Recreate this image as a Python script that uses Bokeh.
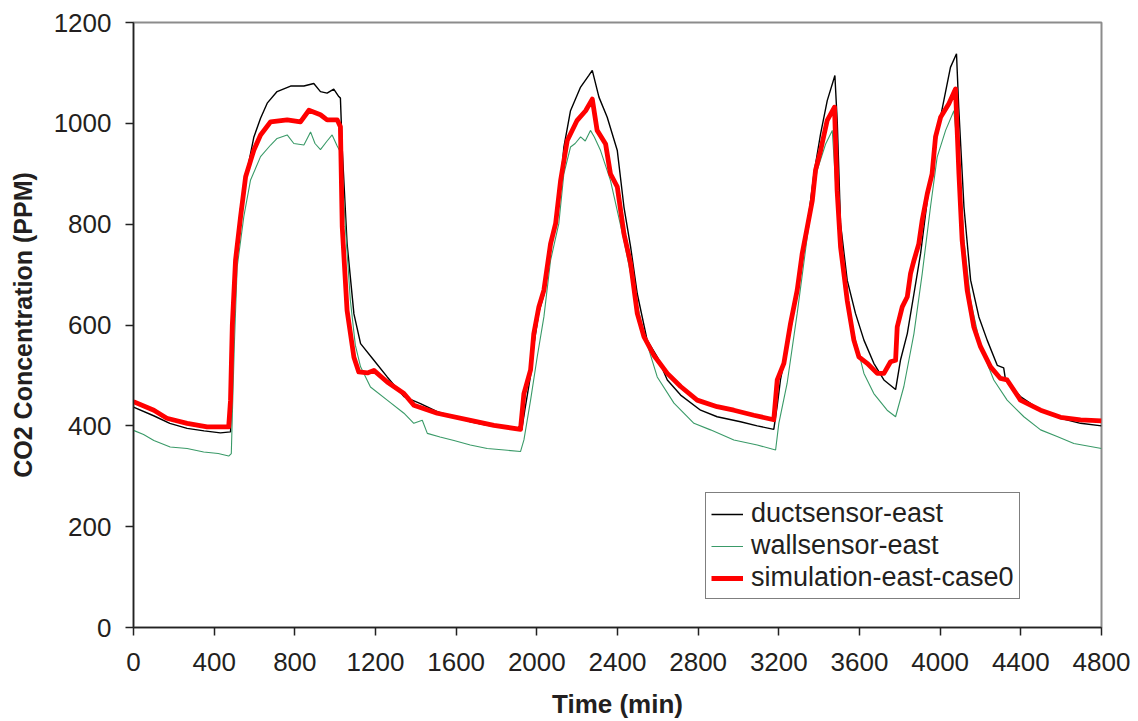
from bokeh.plotting import figure
from bokeh.models import Range1d, SingleIntervalTicker, Legend, LegendItem
from bokeh.embed import file_html
from bokeh.resources import INLINE

# ductsensor-east (black)
duct_t = [0, 100, 180, 266, 350, 431, 481, 490, 500, 512, 530, 564, 597, 630, 663, 712, 779, 845, 894, 927,
          960, 993, 1018, 1026, 1035, 1059, 1093, 1126, 1192, 1258, 1341, 1423, 1506, 1589, 1671, 1754, 1837, 1911,
          1925, 1940, 1969, 1985, 2010, 2035, 2068, 2093, 2118, 2134, 2167, 2217, 2258, 2275, 2308, 2349, 2399,
          2432, 2465, 2498, 2547, 2597, 2647, 2713, 2812, 2894, 3010, 3093, 3175, 3192, 3208, 3258, 3275, 3308,
          3341, 3374, 3407, 3440, 3478, 3490, 3506, 3539, 3580, 3622, 3671, 3721, 3779, 3803, 3837, 3870, 3903,
          3936, 3985, 4018, 4051, 4081, 4092, 4118, 4151, 4192, 4233, 4283, 4315, 4324, 4398, 4498, 4597, 4696, 4800]
duct_v = [437, 420, 405, 395, 390, 386, 388, 500, 650, 750, 830, 907, 973, 1010, 1040, 1063, 1074, 1074, 1079, 1063,
          1060, 1068, 1053, 1050, 950, 762, 622, 563, 530, 497, 458, 444, 428, 418, 408, 401, 398, 395,
          392, 430, 500, 560, 625, 660, 750, 800, 880, 953, 1025, 1072, 1095, 1105, 1052, 1012, 946,
          834, 755, 662, 570, 537, 491, 461, 431, 418, 408, 400, 393, 440, 491, 590, 629, 702,
          794, 900, 979, 1045, 1095, 1000, 801, 689, 623, 570, 524, 491, 472, 530, 583, 662, 742,
          847, 979, 1045, 1111, 1138, 1032, 834, 689, 616, 570, 520, 515, 491, 458, 431, 415, 405, 400]

# wallsensor-east (green)
wall_t = [0, 50, 101, 182, 266, 348, 420, 472, 485, 490, 500, 514, 547, 580, 630, 680, 712, 762, 795, 845,
          878, 900, 927, 960, 985, 1010, 1030, 1050, 1075, 1100, 1126, 1175, 1258, 1341, 1390, 1432, 1457,
          1520, 1589, 1670, 1754, 1840, 1919, 1936, 1969, 2002, 2035, 2068, 2109, 2134, 2167, 2190, 2217,
          2240, 2266, 2285, 2316, 2365, 2432, 2481, 2531, 2597, 2680, 2779, 2861, 2977, 3093, 3184, 3200,
          3241, 3291, 3341, 3390, 3432, 3465, 3489, 3522, 3572, 3622, 3671, 3737, 3779, 3820, 3870, 3911,
          3952, 3985, 4027, 4068, 4090, 4118, 4151, 4200, 4266, 4332, 4415, 4498, 4580, 4663, 4800]
wall_v = [391, 383, 371, 358, 355, 348, 345, 340, 345, 420, 560, 715, 815, 887, 934, 957, 970, 977, 960, 957,
          983, 960, 948, 965, 977, 955, 940, 800, 650, 560, 517, 477, 451, 425, 405, 411, 385,
          378, 371, 362, 355, 352, 349, 372, 451, 537, 616, 728, 801, 900, 953, 960, 973,
          965, 986, 973, 946, 887, 768, 669, 583, 497, 445, 405, 392, 372, 362, 352, 405,
          484, 623, 775, 907, 959, 986, 834, 702, 583, 504, 464, 431, 418, 478, 583, 702,
          834, 933, 986, 1025, 933, 768, 649, 557, 491, 451, 418, 392, 379, 365, 355]

# simulation-east-case0 (red)
sim_t = [0, 101, 165, 266, 365, 472, 481, 490, 506, 531, 556, 597, 630, 680, 762, 828, 870, 927, 960, 1010,
         1026, 1035, 1059, 1093, 1117, 1160, 1192, 1258, 1341, 1390, 1506, 1671, 1787, 1919, 1936, 1969,
         1985, 2010, 2035, 2068, 2093, 2118, 2151, 2200, 2242, 2275, 2299, 2341, 2365, 2399, 2432, 2465,
         2498, 2531, 2580, 2647, 2713, 2795, 2894, 2977, 3076, 3175, 3192, 3225, 3258, 3291, 3316, 3341,
         3366, 3382, 3407, 3440, 3476, 3489, 3506, 3539, 3572, 3597, 3638, 3688, 3721, 3754, 3779, 3787,
         3812, 3837, 3853, 3870, 3894, 3911, 3936, 3960, 3977, 4002, 4043, 4076, 4093, 4109, 4134, 4167,
         4200, 4250, 4299, 4332, 4398, 4498, 4597, 4696, 4800]
sim_v = [448, 431, 415, 405, 398, 398, 450, 600, 729, 815, 894, 947, 977, 1003, 1007, 1003, 1026, 1017, 1007, 1007,
         993, 795, 629, 536, 507, 505, 510, 487, 464, 441, 425, 411, 401, 393, 464, 511,
         583, 636, 669, 761, 801, 887, 966, 1006, 1025, 1048, 986, 959, 900, 874, 781, 722,
         623, 577, 540, 504, 478, 451, 438, 431, 421, 412, 491, 524, 603, 669, 742, 794,
         847, 907, 946, 1006, 1032, 867, 755, 649, 570, 537, 524, 504, 504, 527, 530, 596,
         636, 656, 702, 728, 761, 808, 860, 900, 973, 1012, 1039, 1068, 900, 768, 669, 596,
         557, 517, 494, 491, 451, 431, 417, 412, 410]

x_ticks_interval = 400
y_ticks_interval = 200

FONT = "Liberation Sans"

p = figure(width=1138, height=721, output_backend="svg", toolbar_location=None,
           x_range=Range1d(0, 4800), y_range=Range1d(0, 1200),
           min_border_left=133, min_border_right=37, min_border_top=22, min_border_bottom=93)

p.xgrid.visible = False
p.ygrid.visible = False
p.outline_line_color = "#8c8c8c"
p.outline_line_width = 2
p.background_fill_color = "white"
p.border_fill_color = "white"

r_duct = p.line(duct_t, duct_v, line_color="black", line_width=1.4)
r_wall = p.line(wall_t, wall_v, line_color="#3a9a68", line_width=1.1)
r_sim = p.line(sim_t, sim_v, line_color="#ff0000", line_width=4.8, line_join="round")

for ax in (p.xaxis[0], p.yaxis[0]):
    ax.axis_line_color = "#222222"
    ax.axis_line_width = 1.5
    ax.major_tick_line_color = "#222222"
    ax.major_tick_line_width = 1.5
    ax.major_tick_out = 8
    ax.major_tick_in = 0
    ax.minor_tick_line_color = None
    ax.major_label_text_font = FONT
    ax.major_label_text_font_size = "26px"
    ax.major_label_text_color = "#231f20"
    ax.axis_label_text_font = FONT
    ax.axis_label_text_font_style = "bold"
    ax.axis_label_text_color = "#231f20"

p.xaxis.ticker = SingleIntervalTicker(interval=x_ticks_interval)
p.yaxis.ticker = SingleIntervalTicker(interval=y_ticks_interval)
p.xaxis.axis_label = "Time (min)"
p.yaxis.axis_label = "CO2 Concentration (PPM)"
p.xaxis.axis_label_text_font_size = "26px"
p.yaxis.axis_label_text_font_size = "25px"
p.xaxis.major_label_standoff = 17
p.yaxis.major_label_standoff = 14
p.xaxis.axis_label_standoff = 15
p.yaxis.axis_label_standoff = 14

legend = Legend(items=[
    LegendItem(label="ductsensor-east", renderers=[r_duct]),
    LegendItem(label="wallsensor-east", renderers=[r_wall]),
    LegendItem(label="simulation-east-case0", renderers=[r_sim]),
], location=(572, 28))
legend.border_line_color = "black"
legend.border_line_width = 1
legend.background_fill_color = "white"
legend.background_fill_alpha = 1
legend.label_text_font = FONT
legend.label_text_font_size = "27px"
legend.label_text_color = "#231f20"
legend.glyph_width = 32
legend.glyph_height = 30
legend.label_height = 30
legend.label_standoff = 8
legend.padding = 5
legend.spacing = 1
legend.margin = 0
p.add_layout(legend, "center")

open("out.html", "w").write(file_html(p, INLINE))
